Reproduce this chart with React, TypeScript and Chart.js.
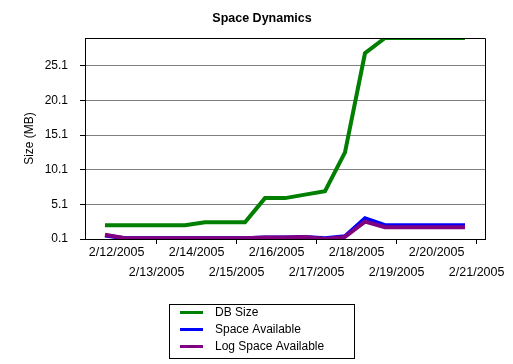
import React, { useEffect, useRef } from 'react';
import { Chart, registerables } from 'chart.js';

Chart.register(...registerables);

const chartTitle = 'Space Dynamics';
const yAxisTitle = 'Size (MB)';

// sample times (every 12 hours)
const pointTimes = [
  '2005-02-11T17:00', '2005-02-12T05:00', '2005-02-12T17:00', '2005-02-13T05:00',
  '2005-02-13T17:00', '2005-02-14T05:00', '2005-02-14T17:00', '2005-02-15T05:00',
  '2005-02-15T17:00', '2005-02-16T05:00', '2005-02-16T17:00', '2005-02-17T05:00',
  '2005-02-17T17:00', '2005-02-18T05:00', '2005-02-18T17:00', '2005-02-19T05:00',
  '2005-02-19T17:00', '2005-02-20T05:00', '2005-02-20T17:00',
];

const dbSize = [2.1, 2.1, 2.1, 2.1, 2.1, 2.5, 2.5, 2.5, 6.0, 6.0, 6.5, 7.0, 12.6, 26.9, 29.1, 29.1, 29.1, 29.1, 29.1];
const spaceAvailable = [0.6, 0.2, 0.2, 0.2, 0.2, 0.2, 0.2, 0.2, 0.3, 0.3, 0.4, 0.2, 0.5, 3.1, 2.1, 2.1, 2.1, 2.1, 2.1];
const logSpaceAvailable = [0.7, 0.2, 0.2, 0.2, 0.2, 0.2, 0.2, 0.2, 0.3, 0.3, 0.4, 0.1, 0.4, 2.6, 1.8, 1.8, 1.8, 1.8, 1.8];

const seriesNames = ['DB Size', 'Space Available', 'Log Space Available'];
const seriesColors = ['#007F00', '#0000FF', '#800080'];

const xTickLabels = [
  '2/12/2005', '2/13/2005', '2/14/2005', '2/15/2005', '2/16/2005',
  '2/17/2005', '2/18/2005', '2/19/2005', '2/20/2005', '2/21/2005',
];
const xAxisStart = '2005-02-11T05:00';
const xAxisEnd = '2005-02-21T05:00';

const yTicks = [0.1, 5.1, 10.1, 15.1, 20.1, 25.1];
const yMin = 0.1;
const yMax = 29.1;

const FONT = '"Liberation Sans", Arial, sans-serif';

// day-of-month with fractional hours
const toDay = (s: string) => {
  const [d, t] = s.split('T');
  const day = parseInt(d.split('-')[2], 10);
  const [h, m] = t.split(':').map((v) => parseInt(v, 10));
  return day + (h + m / 60) / 24;
};
const labelDay = (s: string) => parseInt(s.split('/')[1], 10);

const frame = {
  id: 'frame',
  afterDraw(chart: any) {
    const { ctx, chartArea: a } = chart;
    ctx.save();
    ctx.strokeStyle = '#000';
    ctx.lineWidth = 1;
    ctx.beginPath();
    ctx.moveTo(Math.round(a.left) + 0.5, Math.round(a.top) + 0.5);
    ctx.lineTo(Math.round(a.right) + 0.5, Math.round(a.top) + 0.5);
    ctx.lineTo(Math.round(a.right) + 0.5, Math.round(a.bottom) + 0.5);
    ctx.stroke();

    // title
    ctx.fillStyle = '#000';
    ctx.font = `bold 12.5px ${FONT}`;
    ctx.textAlign = 'center';
    ctx.textBaseline = 'middle';
    ctx.fillText(chartTitle, 262, 18.5);

    // legend box
    ctx.strokeRect(169.5, 304.5, 185, 54);
    ctx.font = `12px ${FONT}`;
    ctx.textAlign = 'left';
    chart.data.datasets.forEach((ds: any, i: number) => {
      const y = 312.5 + i * 17;
      ctx.strokeStyle = ds.borderColor;
      ctx.lineWidth = 3;
      ctx.beginPath();
      ctx.moveTo(180, y);
      ctx.lineTo(203, y);
      ctx.stroke();
      ctx.fillStyle = '#000';
      ctx.fillText(ds.label, 215, y);
    });
    ctx.restore();
  },
};

export default function App() {
  const ref = useRef<HTMLCanvasElement>(null);
  useEffect(() => {
    if (!ref.current) return;
    const xs = pointTimes.map(toDay);
    const mk = (vals: number[], i: number, order: number) => ({
      label: seriesNames[i],
      data: vals.map((v, k) => ({ x: xs[k], y: v })),
      borderColor: seriesColors[i],
      backgroundColor: seriesColors[i],
      borderWidth: 4,
      pointRadius: 0,
      tension: 0,
      fill: false,
      order,
    });
    const chart = new Chart(ref.current, {
      type: 'line',
      data: {
        datasets: [mk(dbSize, 0, 2), mk(spaceAvailable, 1, 1), mk(logSpaceAvailable, 2, 0)],
      },
      plugins: [frame],
      options: {
        animation: false,
        responsive: false,
        maintainAspectRatio: false,
        layout: { padding: { top: 38, right: 28, left: 0, bottom: 0 } },
        plugins: {
          legend: { display: false },
          title: { display: false },
          tooltip: { enabled: false },
        },
        scales: {
          x: {
            type: 'linear',
            min: toDay(xAxisStart),
            max: toDay(xAxisEnd),
            afterFit: (s: any) => { s.height = 125; },
            afterBuildTicks: (s: any) => { s.ticks = xTickLabels.map((l) => ({ value: labelDay(l) })); },
            border: { display: true, color: '#000', width: 1 },
            grid: {
              display: true,
              drawOnChartArea: false,
              drawTicks: true,
              tickLength: 5,
              color: (c: any) => (c.tick && c.tick.value % 2 === 1 ? '#000' : 'rgba(0,0,0,0)'),
            },
            ticks: {
              autoSkip: false,
              maxRotation: 0,
              minRotation: 0,
              padding: -1,
              color: '#000',
              font: { family: FONT, size: 12.5, lineHeight: '20px' as any },
              callback: (v: any, i: number) => {
                const l = xTickLabels.find((t) => labelDay(t) === v) || '';
                return i % 2 === 0 ? l : ['', l];
              },
            },
          },
          y: {
            type: 'linear',
            min: yMin,
            max: yMax,
            afterFit: (s: any) => { s.width = 85; },
            afterBuildTicks: (s: any) => { s.ticks = yTicks.map((v) => ({ value: v })); },
            border: { display: true, color: '#000', width: 1 },
            grid: {
              color: '#808080',
              lineWidth: 1,
              drawTicks: true,
              tickLength: 5,
              tickColor: '#000',
            },
            ticks: {
              padding: 12,
              color: '#000',
              font: { family: FONT, size: 12 },
              callback: (v: any) => Number(v).toFixed(1),
            },
            title: {
              display: true,
              text: yAxisTitle,
              color: '#000',
              font: { family: FONT, size: 12 },
              padding: { top: 22, bottom: 0 },
            },
          },
        },
      },
    });
    return () => chart.destroy();
  }, []);
  return (
    <div style={{ position: 'absolute', left: 0, top: 0, width: 513, height: 364, background: '#fff' }}>
      <canvas ref={ref} width={513} height={364} style={{ display: 'block' }} />
    </div>
  );
}
